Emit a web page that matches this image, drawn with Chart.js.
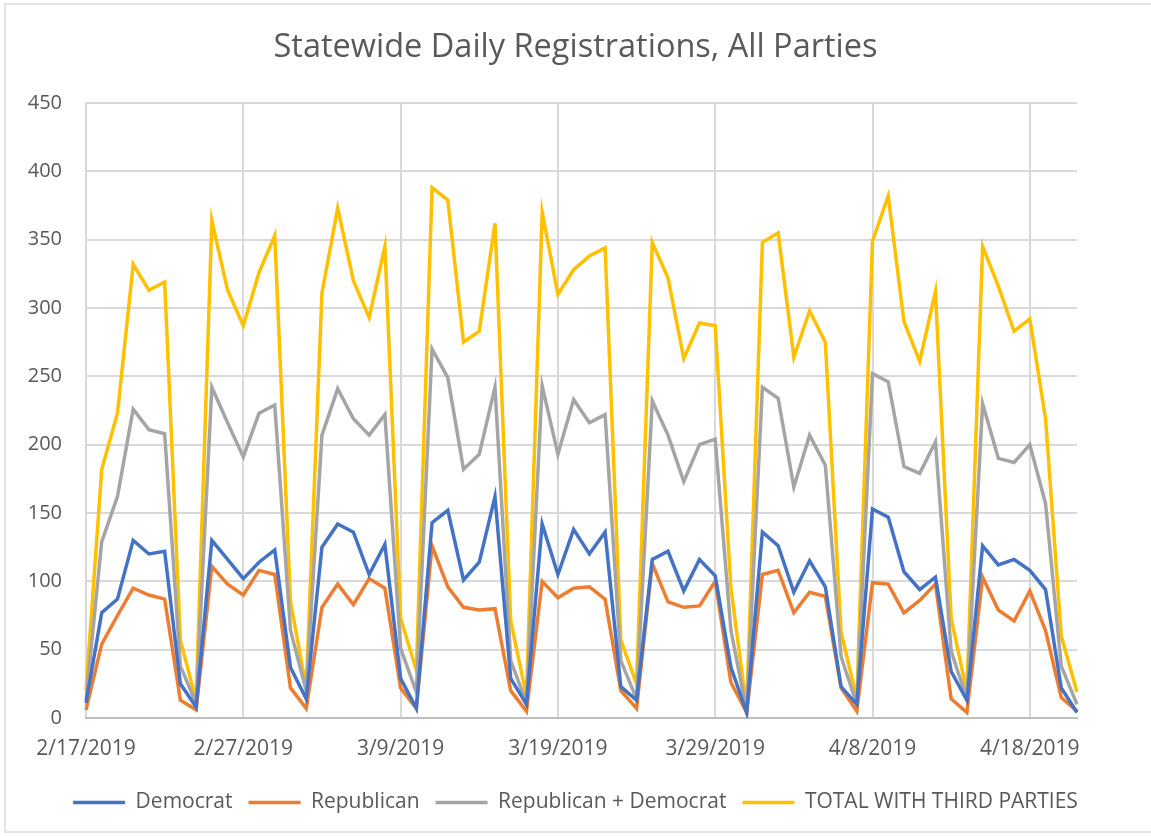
<!DOCTYPE html>
<html lang="en">
<head>
    <meta charset="UTF-8">
    <title>Statewide Daily Registrations, All Parties</title>
    <script src="https://cdn.jsdelivr.net/npm/chart.js"></script>
    <style>
        html, body {
            margin: 0;
            padding: 0;
            background: #ffffff;
            overflow: hidden;
        }
        #frame {
            position: absolute;
            left: 4px;
            top: 3px;
            width: 1200px;
            height: 830px;
            border: 2px solid #e3e3e3;
            box-sizing: border-box;
        }
        #chartContainer {
            position: absolute;
            left: 0;
            top: 0;
            width: 1151px;
            height: 836px;
        }
    </style>
</head>
<body>
    <div id="frame"></div>
    <div id="chartContainer">
        <canvas id="regChart" width="1151" height="836"></canvas>
    </div>
    <script>
        // one point per day, 2/17/2019 .. 4/21/2019
        const startDay = Date.UTC(2019, 1, 17);
        const numDays = 64;
        const dayLabels = [];
        for (let i = 0; i < numDays; i++) {
            const d = new Date(startDay + i * 86400000);
            dayLabels.push((d.getUTCMonth() + 1) + '/' + d.getUTCDate() + '/' + d.getUTCFullYear());
        }

        // labels shown on the x axis (every 10 days)
        const tickLabels = ['2/17/2019', '2/27/2019', '3/9/2019', '3/19/2019', '3/29/2019', '4/8/2019', '4/18/2019'];

        const democrat = [
            11, 77, 87, 130, 120, 122, 25, 8, 130, 116, 102, 114, 123, 37, 14,
            125, 142, 136, 105, 127, 29, 7, 143, 152, 101, 114, 162, 29, 10, 142, 105,
            138, 120, 136, 23, 13, 116, 122, 93, 116, 104, 37, 4, 136, 126, 92,
            115, 96, 23, 10, 153, 147, 107, 94, 103, 34, 13, 126, 112, 116, 108, 94, 22, 4
        ];
        const republican = [
            6, 54, 75, 95, 90, 87, 13, 6, 111, 98, 90, 108, 105, 22, 7,
            81, 98, 83, 102, 95, 22, 7, 126, 96, 81, 79, 80, 20, 5, 100, 88,
            95, 96, 87, 20, 7, 113, 85, 81, 82, 100, 26, 4, 105, 108, 77,
            92, 89, 22, 5, 99, 98, 77, 86, 98, 14, 4, 103, 79, 71, 93, 64, 15, 5
        ];
        const repPlusDem = [
            13, 129, 162, 226, 211, 208, 38, 11, 242, 216, 191, 223, 229, 64, 20,
            207, 241, 219, 207, 222, 51, 19, 270, 249, 182, 193, 242, 42, 11, 243, 193,
            233, 216, 222, 42, 14, 232, 207, 173, 200, 204, 64, 5, 242, 234, 169,
            207, 185, 45, 10, 252, 246, 184, 179, 202, 49, 14, 230, 190, 187, 200, 157, 38, 10
        ];
        const totalThird = [
            20, 182, 223, 332, 313, 319, 57, 13, 364, 313, 287, 326, 353, 85, 22,
            311, 373, 320, 293, 345, 73, 35, 388, 379, 275, 283, 362, 71, 16, 370, 310,
            328, 338, 344, 57, 25, 348, 322, 263, 289, 287, 95, 7, 348, 355, 264,
            298, 275, 63, 14, 349, 382, 290, 261, 312, 73, 19, 345, 316, 283, 292, 219, 60, 19
        ];

        const seriesNames = ['Democrat', 'Republican', 'Republican + Democrat', 'TOTAL WITH THIRD PARTIES'];
        const seriesColors = ['#4472C4', '#ED7D31', '#A5A5A5', '#FFC000'];
        const seriesData = [democrat, republican, repPlusDem, totalThird];

        const textColor = '#595959';
        const gridColor = '#d9d9d9';
        const fontName = "'Open Sans', sans-serif";

        const ctx = document.getElementById('regChart').getContext('2d');

        const regChart = new Chart(ctx, {
            type: 'line',
            data: {
                labels: dayLabels,
                datasets: seriesNames.map((name, i) => ({
                    label: name,
                    data: seriesData[i],
                    borderColor: seriesColors[i],
                    backgroundColor: seriesColors[i],
                    borderWidth: 3.5,
                    pointRadius: 0,
                    tension: 0,
                    fill: false
                }))
            },
            options: {
                responsive: false,
                animation: false,
                layout: {
                    padding: { left: 0, right: 0, top: 0, bottom: 13 }
                },
                plugins: {
                    tooltip: { enabled: false },
                    title: {
                        display: true,
                        text: 'Statewide Daily Registrations, All Parties',
                        color: textColor,
                        font: { family: fontName, size: 32.5, weight: 'normal', lineHeight: 1.2 },
                        padding: { top: 28, bottom: 36 }
                    },
                    legend: {
                        display: true,
                        position: 'bottom',
                        labels: {
                            color: textColor,
                            font: { family: fontName, size: 21 },
                            usePointStyle: true,
                            pointStyle: 'line',
                            pointStyleWidth: 52,
                            padding: 16
                        }
                    }
                },
                scales: {
                    x: {
                        offset: false,
                        grid: {
                            color: gridColor,
                            lineWidth: 2,
                            drawTicks: false
                        },
                        border: {
                            color: '#bfbfbf',
                            width: 2
                        },
                        ticks: {
                            autoSkip: false,
                            maxRotation: 0,
                            color: textColor,
                            font: { family: fontName, size: 21 },
                            padding: 18,
                            callback: function (value) {
                                const lbl = this.getLabelForValue(value);
                                return tickLabels.includes(lbl) ? lbl : null;
                            }
                        },
                        afterFit: function (scale) {
                            scale.height = 58;
                        }
                    },
                    y: {
                        min: 0,
                        max: 450,
                        grid: {
                            color: gridColor,
                            lineWidth: 2,
                            drawTicks: false
                        },
                        border: { display: false },
                        ticks: {
                            stepSize: 50,
                            color: textColor,
                            font: { family: fontName, size: 20 },
                            padding: 24
                        },
                        afterFit: function (scale) {
                            scale.width = 86;
                        }
                    },
                    // empty right-hand strip so the plot ends where the reference does
                    yPad: {
                        type: 'linear',
                        position: 'right',
                        display: true,
                        grid: { display: false },
                        border: { display: false },
                        ticks: { display: false },
                        afterFit: function (scale) {
                            scale.width = 74;
                        }
                    }
                }
            }
        });
    </script>
</body>
</html>
